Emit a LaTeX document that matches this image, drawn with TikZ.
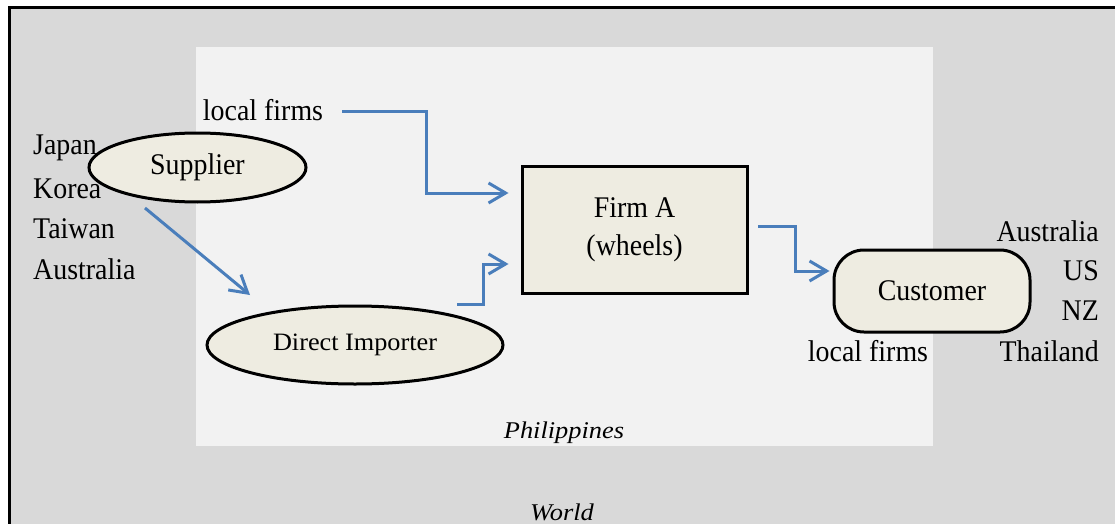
\documentclass[tikz,border=0pt]{standalone}
\usepackage{fontspec}
\setmainfont{Liberation Serif}
\usetikzlibrary{arrows.meta,shapes.geometric}
\definecolor{worldgray}{HTML}{D9D9D9}
\definecolor{countrygray}{HTML}{F2F2F2}
\definecolor{tan}{HTML}{EEECE1}
\definecolor{flowblue}{HTML}{4A7EBB}
\tikzset{
  lbl/.style={font=\fontsize{30}{36}\selectfont, inner sep=0pt},
  region/.style={font=\fontsize{24}{29}\selectfont\itshape, inner sep=0pt},
  blob/.style={ellipse, draw=black, line width=3pt, fill=tan, inner sep=0pt},
  flow/.style={draw=flowblue, line width=3pt,
    -{Straight Barb[length=17pt,width=20pt,line width=3pt]}},
}
\newcommand{\narrow}[1]{\scalebox{0.93}[1]{#1}}
\newcommand{\widen}[1]{\scalebox{1.1}[1]{#1}}
\begin{document}
\begin{tikzpicture}[x=1pt,y=-1pt]
\useasboundingbox (0,0) rectangle (1115,524);
\clip (0,0) rectangle (1115,524);
\fill[white] (0,0) rectangle (1115,524);
% world and country areas
\draw[line width=3pt, fill=worldgray] (9,8) rectangle (1140,560);
\fill[countrygray] (196,47) rectangle (933,446);
\node[region] (phil) at (564,433) {\widen{Philippines}};
\node[region] (world) at (562,512) {\widen{World}};

% supplier countries
\node[lbl, anchor=west] (japan) at (33,148) {\narrow{Japan}};
\node[blob, minimum width=217pt, minimum height=69pt, lbl] (supplier) at (197.5,167.5) {\narrow{Supplier}};
\node[lbl, anchor=west] (korea) at (33,189) {\narrow{Korea}};
\node[lbl, anchor=west] (taiwan) at (33,229) {\narrow{Taiwan}};
\node[lbl, anchor=west] (austS) at (33,269) {\narrow{Australia}};

% customer countries
\node[lbl, anchor=east] (austC) at (1099,231) {\narrow{Australia}};
\node[lbl, anchor=east] (us) at (1099,271) {\narrow{US}};
\node[lbl, anchor=east] (nz) at (1099,311) {\narrow{NZ}};
\node[lbl, anchor=east] (thai) at (1099,351) {\narrow{Thailand}};

% actors
\node[blob, minimum width=296pt, minimum height=78pt,
      font=\fontsize{25}{30}\selectfont] (importer) at (355,345) {\scalebox{1.05}[1]{Direct Importer}};
\node[draw=black, line width=3pt, fill=tan, minimum width=225pt, minimum height=127pt,
      align=center, lbl] (firm) at (634.5,229.5) {\narrow{Firm A}\\[2pt]\narrow{(wheels)}};
\node[draw=black, line width=3pt, fill=tan, rounded corners=30pt,
      minimum width=196pt, minimum height=82pt, lbl] (customer) at (932,291) {\narrow{Customer}};
\node[lbl] (localS) at (263,110) {\narrow{local firms}};
\node[lbl] (localC) at (868,351) {\narrow{local firms}};

% flows
\coordinate (sA) at (145,208);
\coordinate (iA) at (250,295);
\draw[flow] (sA) -- (iA);
\draw[flow] (342,112) -- (426,112) -- (426,193) -- ([xshift=-12pt]firm.west |- 0,193);
\draw[flow] (457,304) -- (483,304) -- (483,264) -- ([xshift=-12pt]firm.west |- 0,264);
\draw[flow] (758,226) -- (795,226) -- (795,271) -- ([xshift=-3pt]customer.west |- 0,271);
\end{tikzpicture}
\end{document}
